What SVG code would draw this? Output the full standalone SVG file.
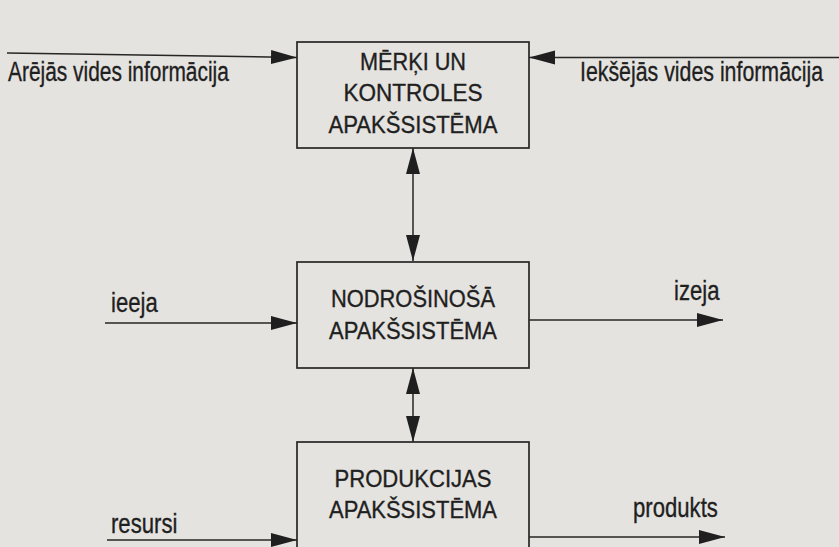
<svg xmlns="http://www.w3.org/2000/svg" width="839" height="547" viewBox="0 0 839 547">
  <defs>
    <marker id="head" markerUnits="userSpaceOnUse" markerWidth="28" markerHeight="15" refX="26" refY="7" orient="auto-start-reverse">
      <path d="M0,0 L26,7 L0,14 Z" fill="#1f1f1f"/>
    </marker>
    <style>
      .box { fill: none; stroke: #262626; stroke-width: 1.7; }
      .node-text { font-family: "Liberation Sans", Arial, Helvetica, sans-serif; font-size: 23.5px; fill: #1f1f1f; stroke: #1f1f1f; stroke-width: 0.35; text-anchor: middle; }
      .label { font-family: "Liberation Sans", Arial, Helvetica, sans-serif; font-size: 27px; fill: #1f1f1f; stroke: #1f1f1f; stroke-width: 0.35; }
      .conn { fill: none; stroke: #262626; stroke-width: 1.5; }
    </style>
  </defs>

  <!-- paper -->
  <rect x="0" y="0" width="839" height="547" fill="#e5e3df"/>

  <!-- connectors -->
  <g id="connectors">
    <line class="conn" x1="7" y1="53" x2="297" y2="57.5" marker-end="url(#head)"/>
    <line class="conn" x1="839" y1="57.5" x2="529" y2="57.5" marker-end="url(#head)"/>
    <line class="conn" x1="413" y1="148" x2="413" y2="261" marker-start="url(#head)" marker-end="url(#head)"/>
    <line class="conn" x1="413" y1="368" x2="413" y2="442" marker-start="url(#head)" marker-end="url(#head)"/>
    <line class="conn" x1="105" y1="323" x2="297" y2="323" marker-end="url(#head)"/>
    <line class="conn" x1="529" y1="320" x2="723" y2="320" marker-end="url(#head)"/>
    <line class="conn" x1="107" y1="540" x2="297" y2="540" marker-end="url(#head)"/>
    <line class="conn" x1="529" y1="537" x2="725" y2="537" marker-end="url(#head)"/>
  </g>

  <!-- connector labels (narrowed horizontally to a condensed face) -->
  <g id="labels">
    <text class="label" transform="translate(8,81) scale(0.775,1)">Arējās vides informācija</text>
    <text class="label" transform="translate(580,81) scale(0.79,1)">Iekšējās vides informācija</text>
    <text class="label" transform="translate(111,312) scale(0.82,1)">ieeja</text>
    <text class="label" transform="translate(674,300) scale(0.82,1)">izeja</text>
    <text class="label" transform="translate(111,533) scale(0.82,1)">resursi</text>
    <text class="label" transform="translate(633,517) scale(0.82,1)">produkts</text>
  </g>

  <!-- goal and control subsystem -->
  <g id="node-control">
    <rect class="box" x="297" y="42" width="232" height="106"/>
    <text class="node-text" x="413" y="70" textLength="106" lengthAdjust="spacingAndGlyphs">MĒRĶI UN</text>
    <text class="node-text" x="413" y="101" textLength="139" lengthAdjust="spacingAndGlyphs">KONTROLES</text>
    <text class="node-text" x="413" y="133" textLength="169" lengthAdjust="spacingAndGlyphs">APAKŠSISTĒMA</text>
  </g>

  <!-- support subsystem -->
  <g id="node-support">
    <rect class="box" x="297" y="262" width="232" height="106"/>
    <text class="node-text" x="413" y="307" textLength="164" lengthAdjust="spacingAndGlyphs">NODROŠINOŠĀ</text>
    <text class="node-text" x="413" y="339" textLength="168" lengthAdjust="spacingAndGlyphs">APAKŠSISTĒMA</text>
  </g>

  <!-- production subsystem -->
  <g id="node-production">
    <rect class="box" x="297" y="442" width="232" height="120"/>
    <text class="node-text" x="413" y="487" textLength="157" lengthAdjust="spacingAndGlyphs">PRODUKCIJAS</text>
    <text class="node-text" x="413" y="518" textLength="168" lengthAdjust="spacingAndGlyphs">APAKŠSISTĒMA</text>
  </g>
</svg>
